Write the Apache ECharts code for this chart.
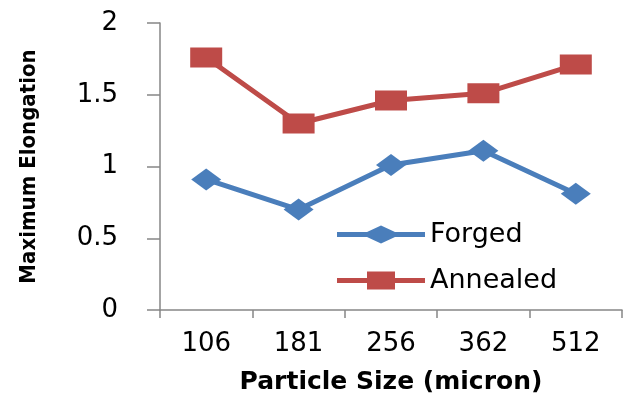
<!DOCTYPE html>
<html>
<head>
<meta charset="utf-8">
<script src="https://cdn.jsdelivr.net/npm/echarts@6/dist/echarts.min.js"></script>
<style>html,body{margin:0;padding:0;background:#fff}#c{width:625px;height:396px}</style>
</head>
<body>
<div id="c"></div>
<script>
const categories = ['106', '181', '256', '362', '512'];
const forged = [0.91, 0.70, 1.01, 1.11, 0.81];
const annealed = [1.76, 1.30, 1.46, 1.51, 1.71];
const yTicks = [0, 0.5, 1, 1.5, 2];

const chart = echarts.init(document.getElementById('c'), null, {renderer: 'canvas'});
const labelFont = {fontFamily: 'DejaVu Sans', fontSize: 26, color: '#000'};
// legend icons: thick line with marker in the middle (88 x 18 box)
const diamondIcon = 'path://M0 6.5L30 6.5L44 0L58 6.5L88 6.5L88 11.5L58 11.5L44 18L30 11.5L0 11.5Z';
const squareIcon = 'path://M0 6.5L30 6.5L30 0L58 0L58 6.5L88 6.5L88 11.5L58 11.5L58 18L30 18L30 11.5L0 11.5Z';
chart.setOption({
  animation: false,
  backgroundColor: '#fff',
  grid: {left: 160, right: 3, top: 23, bottom: 86, containLabel: false, outerBoundsMode: 'none'},
  legend: {
    orient: 'vertical',
    left: 332, top: 216,
    itemWidth: 88, itemHeight: 18, itemGap: 19,
    textStyle: {fontFamily: 'DejaVu Sans', fontSize: 27, color: '#000'},
    data: [{name: 'Forged', icon: diamondIcon}, {name: 'Annealed', icon: squareIcon}]
  },
  xAxis: {
    type: 'category',
    data: categories,
    boundaryGap: true,
    name: 'Particle Size (micron)',
    nameLocation: 'middle',
    nameGap: 60,
    nameTextStyle: {fontFamily: 'DejaVu Sans', fontWeight: 'bold', fontSize: 25, color: '#000'},
    axisLine: {lineStyle: {color: '#868686', width: 1.5}},
    axisTick: {show: true, length: 8, lineStyle: {color: '#868686', width: 1.5}},
    axisLabel: Object.assign({margin: 21}, labelFont),
    splitLine: {show: false}
  },
  yAxis: {
    type: 'value',
    min: 0, max: 2, interval: 0.5,
    name: 'Maximum Elongation',
    nameLocation: 'middle',
    nameGap: 120,
    nameTextStyle: {fontFamily: 'DejaVu Sans Condensed', fontWeight: 'bold', fontSize: 22, color: '#000'},
    axisLine: {show: true, lineStyle: {color: '#868686', width: 1.5}},
    axisTick: {show: true, length: 13, lineStyle: {color: '#868686', width: 1.5}},
    axisLabel: Object.assign({margin: 42, formatter: v => yTicks.includes(v) ? String(v) : ''}, labelFont),
    splitLine: {show: false}
  },
  series: [
    {
      name: 'Forged', type: 'line', data: forged,
      symbol: 'diamond', symbolSize: [30, 22],
      lineStyle: {color: '#4A7EBB', width: 5},
      itemStyle: {color: '#4A7EBB'}
    },
    {
      name: 'Annealed', type: 'line', data: annealed,
      symbol: 'rect', symbolSize: [32, 20],
      lineStyle: {color: '#BE4B48', width: 5},
      itemStyle: {color: '#BE4B48'}
    }
  ]
});
</script>
</body>
</html>
